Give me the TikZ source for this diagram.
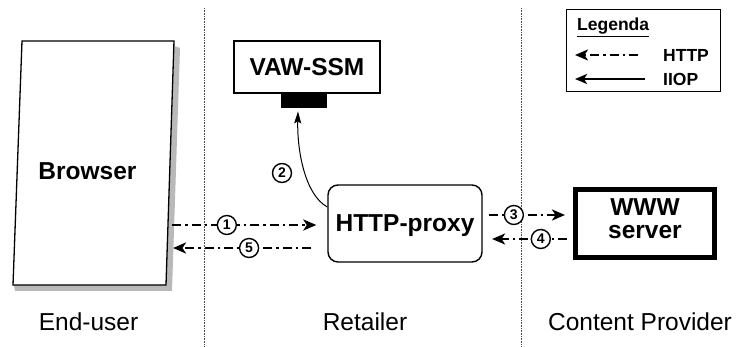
\documentclass[tikz,border=0pt]{standalone}
\usepackage{fontspec}
\setmainfont{Liberation Sans}
\usetikzlibrary{arrows.meta,calc}
\begin{document}
\begin{tikzpicture}[x=1pt,y=-1pt,
  big/.style={font=\fontsize{24.5}{23}\selectfont\bfseries},
  lab/.style={font=\fontsize{24.5}{26}\selectfont, anchor=base, inner sep=0pt},
  legf/.style={font=\fontsize{17.5}{18}\selectfont\bfseries, anchor=base west, inner sep=0pt},
  num/.style={circle,draw,solid,line width=1.4pt,fill=white,minimum size=19pt,inner sep=0pt,font=\fontsize{14}{14}\selectfont\bfseries},
  http/.style={line width=2.6pt,dash pattern=on 9pt off 4pt on 2.5pt off 4pt,-{Stealth[length=13pt,width=11pt,inset=3.5pt]}},
  iiop/.style={line width=1pt,-{Stealth[length=12pt,width=7pt,inset=2pt]}},
  sep/.style={gray!60!black,line width=0.8pt,dash pattern=on 0.8pt off 0.8pt},
]
\useasboundingbox (0,0) rectangle (744,347);

% region separators
\draw[sep] (204,8) -- (204,347);
\draw[sep] (521,8) -- (521,347);

% Browser page with shadow
\fill[gray!55] (174,46) -- (180,48) -- (172,291) -- (15,291) -- (14,285) -- (166,285) -- cycle;
\draw[line width=1.3pt,fill=white] (22,41) -- (174,41) -- (166,285) -- (13,285) -- cycle;
\node[big,anchor=base,inner sep=0pt] (browser) at (87.5,180) {Browser};

% VAW-SSM
\node[draw,line width=1.4pt,minimum width=146pt,minimum height=52pt,inner sep=0pt,big] (vaw) at (307,67) {VAW-SSM};
\node[fill=black,minimum width=46pt,minimum height=15pt,inner sep=0pt,anchor=north] (bar) at (304,93) {};

% HTTP-proxy
\node[draw,line width=1.4pt,rounded corners=10pt,minimum width=154pt,minimum height=77pt,inner sep=0pt,big,text depth=0pt] (proxy) at (405,223.5) {HTTP-proxy};

% WWW server
\node[draw,line width=5pt,minimum width=139pt,minimum height=68pt,inner sep=0pt,big,align=center,text depth=9pt] (www) at (645,223.5) {WWW\\server};

% browser connection points
\coordinate (b1) at (172,225);
\coordinate (b5) at (173,248);

% HTTP arrows
\draw[http] (b1) -- ($(proxy.west |- b1)+(-11,0)$) node[num,pos=0.38] (n1) {1};
\draw[http] ($(proxy.west)+(-16,24.5)$) -- (b5) node[num,pos=0.45] (n5) {5};
\draw[http] ($(proxy.east)+(6,-8.5)$) -- ($(www.west)+(-8,-8.5)$) node[num,pos=0.33] (n3) {3};
\draw[http] ($(www.west)+(-6,15.5)$) -- ($(proxy.east)+(9.4,15.5)$) node[num,pos=0.35] (n4) {4};

% IIOP arrow
\draw[iiop] (proxy.168) .. controls +(-22,-12) and +(-1,40) .. ($(bar.south)+(-6,3)$);
\node[num] (n2) at (282,173) {2};

% Legend
\node[draw,line width=1pt,minimum width=154pt,minimum height=82pt,inner sep=0pt] (legend) at (643,51) {};
\node[legf] (legtitle) at (577,31) {\underline{Legenda}};
\coordinate (h1) at (638,55);
\coordinate (h0) at (575,55);
\draw[http,line width=2.2pt] (h1) -- (h0);
\coordinate (i1) at (645,79);
\coordinate (i0) at (575,79);
\draw[line width=2.2pt,-{Stealth[length=12pt,width=10pt,inset=3pt]}] (i1) -- (i0);
\node[legf] (lh) at (663,62) {HTTP};
\node[legf] (li) at (663,86) {IIOP};

% Region labels
\node[lab] (eu) at (88.5,330) {End-user};
\node[lab] (ret) at (365,330) {Retailer};
\node[lab] (cp) at (640,330) {Content Provider};
\end{tikzpicture}
\end{document}
